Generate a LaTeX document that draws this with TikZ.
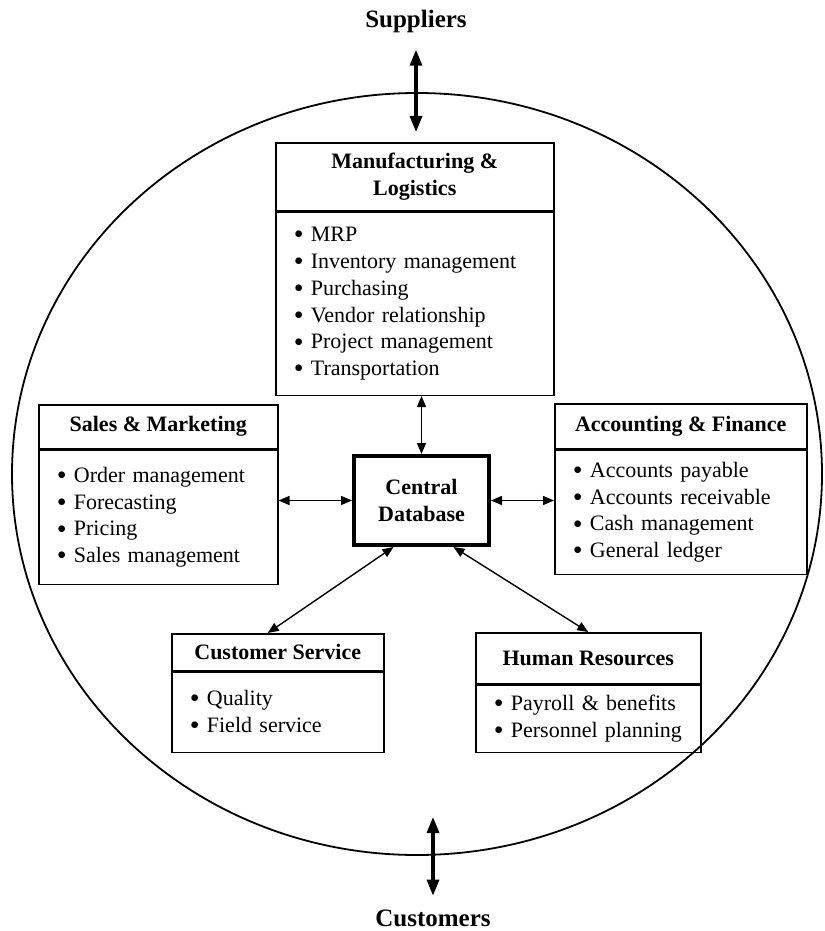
\documentclass[tikz,border=0pt]{standalone}
\usepackage{fontspec}
\setmainfont{Liberation Serif}
\usetikzlibrary{arrows.meta}
\newcommand{\itm}{\raisebox{-1.1pt}{\fontsize{14}{13.4}\selectfont\textbullet}\ }

\begin{document}
\begin{tikzpicture}[x=0.5pt,y=-0.5pt,font=\fontsize{11}{13.4}\selectfont,
  head/.style n args={2}{draw,line width=0.75pt,anchor=north west,inner sep=0pt,minimum width=#1,minimum height=#2,align=center,font=\fontsize{11}{13.4}\selectfont\bfseries},
  list/.style n args={2}{draw,line width=0.75pt,anchor=north west,inner xsep=9pt,inner ysep=2pt,text width=#1,minimum height=#2,align=left},
  link/.style={{Triangle[length=5.5pt,width=4.5pt]}-{Triangle[length=5.5pt,width=4.5pt]},line width=0.7pt},
  bigarrow/.style={{Triangle[length=8pt,width=6pt]}-{Triangle[length=8pt,width=6pt]},line width=1.6pt},
  outer/.style={font=\fontsize{12.5}{15}\selectfont\bfseries,inner sep=0pt}]
\useasboundingbox (0,0) rectangle (824,931);
\draw[line width=0.9pt] (417,474) ellipse [x radius=202.5pt, y radius=190.5pt];

% modules
\node[head={139pt}{34pt}] (mfg) at (275,142) {Manufacturing \&\\ Logistics};
\node[list={121pt}{91.5pt}] (mfgL) at (mfg.south west)
  {\itm MRP\\ \itm Inventory management\\ \itm Purchasing\\
   \itm Vendor relationship\\ \itm Project management\\ \itm Transportation};
\node[head={119.5pt}{22pt}] (sales) at (38,404) {Sales \& Marketing};
\node[list={101.5pt}{67pt}] (salesL) at (sales.south west)
  {\itm Order management\\ \itm Forecasting\\ \itm Pricing\\ \itm Sales management};
\node[head={126pt}{22.5pt}] (acct) at (554,403) {Accounting \& Finance};
\node[list={108pt}{62pt}] (acctL) at (acct.south west)
  {\itm Accounts payable\\ \itm Accounts receivable\\ \itm Cash management\\ \itm General ledger};
\node[head={106pt}{18.5pt}] (svc) at (171,633) {Customer Service};
\node[list={88pt}{40pt}] (svcL) at (svc.south west)
  {\itm Quality\\ \itm Field service};
\node[head={112.5pt}{25.5pt}] (hr) at (475,632) {Human Resources};
\node[list={94.5pt}{33.5pt}] (hrL) at (hr.south west)
  {\itm Payroll \& benefits\\ \itm Personnel planning};

\node[draw,line width=2pt,minimum width=67.5pt,minimum height=44.5pt,align=center,
  font=\fontsize{11}{13.4}\selectfont\bfseries] (db) at (421.5,500.5) {Central\\ Database};

\node[outer] (sup) at (416,21) {Suppliers};
\node[outer] (clients) at (433,918.5) {Customers};
\coordinate (inlet) at (433,817);

% links
\draw[link] (mfgL.south -| db.north) -- (db.north);
\draw[link] (salesL.east |- db.west) -- (db.west);
\draw[link] (db.east) -- (acctL.west |- db.east);
\draw[link] ([xshift=-14pt]db.south) -- ([xshift=-5pt]svc.north);
\draw[link] ([xshift=16pt]db.south) -- (hr.north);
\draw[bigarrow,shorten <=8.5pt,shorten >=5pt] (sup.south) -- (sup.south |- mfg.north);
\draw[bigarrow,shorten >=7pt] (inlet) -- (clients.north);
\end{tikzpicture}
\end{document}
